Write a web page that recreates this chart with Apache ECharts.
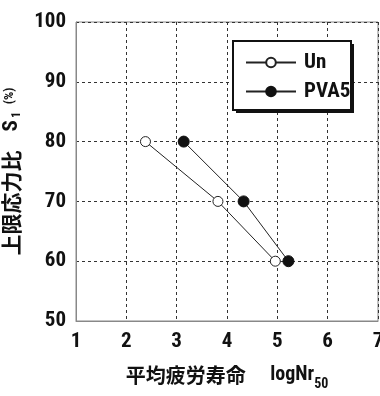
<!DOCTYPE html>
<html><head><meta charset="utf-8">
<script src="https://cdn.jsdelivr.net/npm/echarts@6/dist/echarts.min.js"></script>
<style>html,body{margin:0;padding:0;background:#fff}#c{width:380px;height:396px}</style>
</head><body><div id="c"></div>
<script>
const seriesNames = ['Un', 'PVA5'];
const unX = [2.38, 3.82, 4.96];
const unY = [80, 70, 60];
const pvaX = [3.14, 4.33, 5.22];
const pvaY = [80, 70, 60];
const xTicks = [1, 2, 3, 4, 5, 6, 7];
const yTicks = [50, 60, 70, 80, 90, 100];

const numFont = "'Roboto Condensed','Liberation Sans Narrow','Roboto',sans-serif";
const numWeight = 'bold';
const cjkFont = "'Noto Sans CJK JP','Noto Sans CJK SC',sans-serif";

const chart = echarts.init(document.getElementById('c'));
chart.setOption({
  animation: false,
  backgroundColor: '#fff',
  grid: { left: 76, right: 2, top: 22, bottom: 75, show: true, borderColor: '#888', borderWidth: 1, outerBoundsMode: 'none', containLabel: false },
  graphic: [
    { type: 'rect', z: 10, shape: { x: 236, y: 44, width: 118, height: 69 }, style: { fill: '#111' } },
    { type: 'rect', z: 11, shape: { x: 233, y: 41, width: 118, height: 69 }, style: { fill: '#fff', stroke: '#111', lineWidth: 2 } }
  ],
  legend: {
    orient: 'vertical', left: 245, top: 52, z: 20,
    data: seriesNames,
    itemWidth: 50, itemHeight: 12, itemGap: 8, align: 'left',
    padding: 0,
    textStyle: { fontFamily: numFont, fontWeight: numWeight, fontSize: 21, color: '#111', padding: [0, 0, 0, 3] }
  },
  xAxis: {
    type: 'value', min: xTicks[0], max: xTicks[xTicks.length - 1], interval: 1,
    axisLine: { show: true, lineStyle: { color: '#888', width: 1 } },
    axisTick: { show: false },
    splitLine: { show: true, lineStyle: { color: '#333', type: [3, 3], width: 1 } },
    axisLabel: { margin: 10, fontFamily: numFont, fontWeight: numWeight, fontSize: 21, color: '#111', showMaxLabel: true, showMinLabel: true },
    name: '平均疲労寿命　 {n|logNr}{sub|50}',
    nameLocation: 'middle', nameGap: 38,
    nameTextStyle: { fontFamily: cjkFont, fontWeight: 'bold', fontSize: 20, color: '#111',
      rich: { n: { fontFamily: numFont, fontWeight: numWeight, fontSize: 20, color: '#111' },
              sub: { fontFamily: numFont, fontWeight: numWeight, fontSize: 14, color: '#111', padding: [18, 0, 0, 0] } } }
  },
  yAxis: {
    type: 'value', min: yTicks[0], max: yTicks[yTicks.length - 1], interval: 10,
    axisLine: { show: true, lineStyle: { color: '#888', width: 1 } },
    axisTick: { show: false },
    splitLine: { show: true, lineStyle: { color: '#333', type: [3, 3], width: 1 } },
    axisLabel: { margin: 10, fontFamily: numFont, fontWeight: numWeight, fontSize: 21, color: '#111' },
    name: '上限応力比    {n|S}{sub|1} {pct|(%)}',
    nameLocation: 'middle', nameGap: 41, nameRotate: 90,
    nameTextStyle: { fontFamily: cjkFont, fontWeight: 'bold', fontSize: 21, color: '#111',
      rich: { n: { fontFamily: numFont, fontWeight: numWeight, fontSize: 21, color: '#111' },
              sub: { fontFamily: numFont, fontWeight: numWeight, fontSize: 12, color: '#111', padding: [12, 0, 0, 2] },
              pct: { fontFamily: numFont, fontWeight: numWeight, fontSize: 13, color: '#111', padding: [0, 0, 4, 3] } } }
  },
  series: [
    { name: seriesNames[0], type: 'line', data: unX.map((x, i) => [x, unY[i]]),
      symbol: 'circle', symbolSize: 10, showSymbol: true,
      lineStyle: { color: '#222', width: 1 },
      itemStyle: { color: '#fff', borderColor: '#222', borderWidth: 1 } },
    { name: seriesNames[1], type: 'line', data: pvaX.map((x, i) => [x, pvaY[i]]),
      symbol: 'circle', symbolSize: 11, showSymbol: true,
      lineStyle: { color: '#222', width: 1 },
      itemStyle: { color: '#111', borderColor: '#111', borderWidth: 1 } }
  ]
});
</script></body></html>
